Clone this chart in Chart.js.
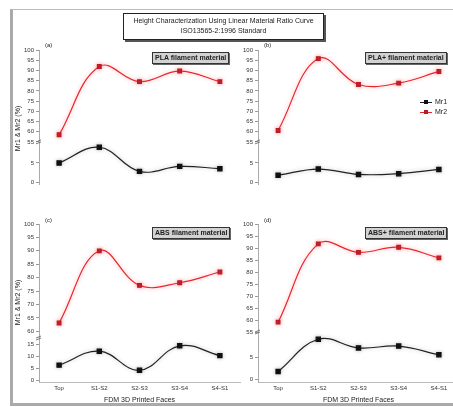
<!DOCTYPE html>
<html>
<head>
<meta charset="utf-8">
<script src="https://cdn.jsdelivr.net/npm/chart.js@4"></script>
<style>
body { margin:0; width:453px; height:407px; overflow:hidden; position:relative; background:#fff;
       font-family:"Liberation Sans", Arial, sans-serif; color:#222; }
canvas { position:absolute; }
#frame { position:absolute; left:10px; top:9px; width:470px; height:393px;
         border-left:3px solid #aaa; border-top:1px solid #bbb; border-bottom:3px solid #aaa; }
#title { position:absolute; left:123px; top:13px; width:199px; height:23px; border:1px solid #222;
         box-shadow:2px 2px 0 #555; background:#fff; font-size:7px; line-height:10px;
         text-align:center; padding-top:2px; }
.tag { position:absolute; height:10px; line-height:10px; font-size:7px; font-weight:bold;
       background:#d2d2d2; border:1px solid #333; box-shadow:1px 1px 0 #666; padding:0 2px; white-space:nowrap; }
.plab { position:absolute; font-size:6px; }
.ytitle { position:absolute; width:80px; height:9px; line-height:9px; font-size:7px; text-align:center;
          transform:rotate(-90deg); white-space:nowrap; }
.leg { position:absolute; font-size:7px; line-height:8px; white-space:nowrap; }
.leg i { display:inline-block; position:relative; width:12px; height:1px; vertical-align:middle; margin-right:3px; }
.leg i b { position:absolute; left:4px; top:-1.5px; width:4px; height:4px; }
</style>
</head>
<body>
<div id="frame"></div>
<canvas id="ca" width="250" height="172" style="left:0;top:40px"></canvas>
<canvas id="cb" width="250" height="172" style="left:219px;top:40px"></canvas>
<canvas id="cc" width="250" height="193" style="left:0;top:214px"></canvas>
<canvas id="cd" width="250" height="193" style="left:219px;top:214px"></canvas>

<div id="title">Height Characterization Using Linear Material Ratio Curve<br>ISO13565-2:1996 Standard</div>
<div class="tag" style="left:152px;top:52px">PLA filament material</div>
<div class="tag" style="left:365px;top:52px">PLA+ filament material</div>
<div class="tag" style="left:152px;top:227px">ABS filament material</div>
<div class="tag" style="left:365px;top:227px">ABS+ filament material</div>
<div class="plab" style="left:45px;top:42px">(a)</div>
<div class="plab" style="left:264px;top:42px">(b)</div>
<div class="plab" style="left:45px;top:217px">(c)</div>
<div class="plab" style="left:264px;top:217px">(d)</div>
<div class="ytitle" style="left:-23px;top:124px">Mr1 &amp; Mr2 (%)</div>
<div class="ytitle" style="left:-23px;top:298px">Mr1 &amp; Mr2 (%)</div>
<div id="legend"></div>

<script>
const faces = ['Top', 'S1-S2', 'S2-S3', 'S3-S4', 'S4-S1'];
const seriesNames = ['Mr1', 'Mr2'];

// (a) PLA
const plaMr1 = [5.0, 9.1, 2.8, 4.1, 3.5];
const plaMr2 = [58.5, 91.9, 84.5, 89.7, 84.5];
// (b) PLA+
const plaPlusMr1 = [1.8, 3.4, 2.0, 2.2, 3.3];
const plaPlusMr2 = [60.6, 95.8, 83.1, 83.8, 89.5];
// (c) ABS
const absMr1 = [6.4, 12.1, 4.3, 14.3, 10.3];
const absMr2 = [63.1, 90.0, 77.1, 78.1, 82.1];
// (d) ABS+
const absPlusMr1 = [1.8, 8.9, 7.0, 7.4, 5.5];
const absPlusMr2 = [59.1, 91.7, 88.2, 90.3, 85.9];

// tick labels of the broken y axis
const upperTicks55 = [55, 60, 65, 70, 75, 80, 85, 90, 95, 100];
const upperTicks60 = [60, 65, 70, 75, 80, 85, 90, 95, 100];
const lowerTicks5 = [0, 5];
const lowerTicks15 = [0, 5, 10, 15];

const colors = ['#222222', '#e8262b'];
const pointColors = ['#111111', '#b81c24'];
const glows = ['rgba(0,0,0,0.25)', 'rgba(255,60,80,0.45)'];

const glowPlugin = {
    id: 'glow',
    beforeDatasetDraw(chart, args) {
        chart.ctx.save();
        chart.ctx.shadowColor = glows[args.index];
        chart.ctx.shadowBlur = 4;
    },
    afterDatasetDraw(chart) {
        chart.ctx.restore();
    }
};

// small marks where the y axis is broken
const breakPlugin = {
    id: 'axisBreak',
    afterDraw(chart) {
        const hi = chart.scales.yHi;
        const ctx = chart.ctx;
        const x = chart.chartArea.left;
        const y = hi.bottom;
        ctx.save();
        ctx.strokeStyle = '#777';
        ctx.lineWidth = 1;
        ctx.beginPath();
        ctx.moveTo(x - 3, y); ctx.lineTo(x + 2, y - 2);
        ctx.moveTo(x - 3, y + 2); ctx.lineTo(x + 2, y);
        ctx.stroke();
        ctx.restore();
    }
};

function yAxis(min, max, ticks, weight, stackWeight) {
    return {
        type: 'linear',
        position: 'left',
        stack: 'v',
        stackWeight: stackWeight,
        weight: weight,
        min: min,
        max: max,
        afterBuildTicks: s => { s.ticks = ticks.map(v => ({value: v})); },
        afterFit: s => { s.width = 39; },
        ticks: {font: {size: 6, family: 'Liberation Sans'}, color: '#333', padding: 2, autoSkip: false},
        grid: {drawOnChartArea: false, tickLength: 3, color: '#999'},
        border: {color: '#aaa'}
    };
}

function makePanel(id, mr1, mr2, bottomRow, hi, lo) {
    const ctx = document.getElementById(id).getContext('2d');
    return new Chart(ctx, {
        type: 'line',
        data: {
            labels: faces,
            datasets: [mr1, mr2].map((d, i) => ({
                label: seriesNames[i],
                data: d,
                yAxisID: i === 0 ? 'yLo' : 'yHi',
                borderColor: colors[i],
                borderWidth: 1.2,
                backgroundColor: pointColors[i],
                pointBackgroundColor: pointColors[i],
                pointBorderColor: pointColors[i],
                pointStyle: 'rect',
                pointRadius: i === 0 ? 3 : 2.6,
                tension: 0.4,
                clip: false
            }))
        },
        options: {
            responsive: false,
            animation: false,
            events: [],
            layout: {padding: {top: 10, right: 10, left: 0, bottom: bottomRow ? 3 : 6}},
            plugins: {legend: {display: false}, tooltip: {enabled: false}},
            scales: {
                x: {
                    type: 'category',
                    offset: true,
                    display: bottomRow,
                    afterFit: s => { s.height = 22; },
                    grid: {display: false, drawTicks: false},
                    border: {color: '#bbb'},
                    ticks: {font: {size: 6, family: 'Liberation Sans'}, color: '#333', padding: 3, maxRotation: 0, autoSkip: false},
                    title: {display: true, text: 'FDM 3D Printed Faces', font: {size: 7, family: 'Liberation Sans'},
                            color: '#222', padding: {top: 0, bottom: 0}}
                },
                yHi: yAxis(hi[0], hi[1], hi[2], 1, hi[3]),
                yLo: yAxis(lo[0], lo[1], lo[2], 0, lo[3])
            }
        },
        plugins: [glowPlugin, breakPlugin]
    });
}

makePanel('ca', plaMr1, plaMr2, false, [55, 100, upperTicks55, 107], [-0.5, 10.5, lowerTicks5, 49]);
makePanel('cb', plaPlusMr1, plaPlusMr2, false, [55, 100, upperTicks55, 107], [-0.5, 10.5, lowerTicks5, 49]);
makePanel('cc', absMr1, absMr2, true, [57.5, 100, upperTicks60, 114], [-0.5, 17.5, lowerTicks15, 44]);
makePanel('cd', absPlusMr1, absPlusMr2, true, [55, 100, upperTicks55, 108], [-0.5, 10.5, lowerTicks5, 50]);

// legend for panel (b)
const legend = document.getElementById('legend');
seriesNames.forEach((name, i) => {
    const row = document.createElement('div');
    row.className = 'leg';
    row.style.left = '420px';
    row.style.top = (98 + i * 10) + 'px';
    row.innerHTML = '<i style="background:' + colors[i] + '"><b style="background:' + pointColors[i] + '"></b></i>' + name;
    legend.appendChild(row);
});
</script>
</body>
</html>
